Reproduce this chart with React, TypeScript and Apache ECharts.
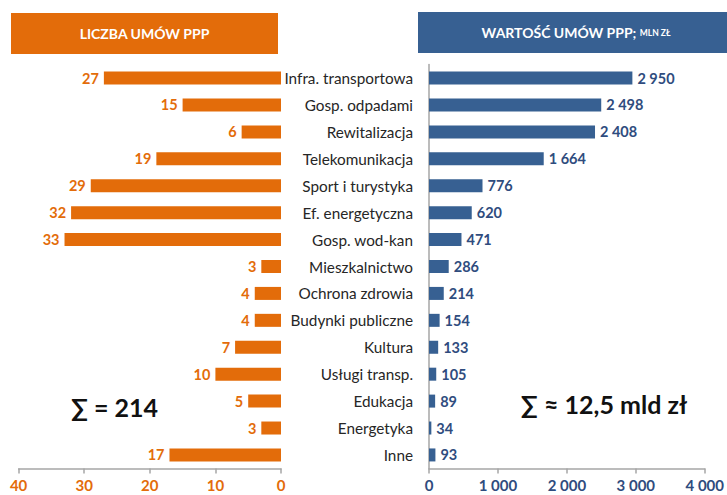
import React, { useEffect, useRef } from "react";
import * as echarts from "echarts";

const categories = [
  "Infra. transportowa",
  "Gosp. odpadami",
  "Rewitalizacja",
  "Telekomunikacja",
  "Sport i turystyka",
  "Ef. energetyczna",
  "Gosp. wod-kan",
  "Mieszkalnictwo",
  "Ochrona zdrowia",
  "Budynki publiczne",
  "Kultura",
  "Usługi transp.",
  "Edukacja",
  "Energetyka",
  "Inne",
];
const countValues = [27, 15, 6, 19, 29, 32, 33, 3, 4, 4, 7, 10, 5, 3, 17];
const valueValues = [2950, 2498, 2408, 1664, 776, 620, 471, 286, 214, 154, 133, 105, 89, 34, 93];
const leftTicks = { min: 0, max: 40, interval: 10 };
const rightTicks = { min: 0, max: 4000, interval: 1000 };
const leftTitle = "LICZBA UMÓW PPP";
const rightTitle = "WARTOŚĆ UMÓW PPP;";
const rightTitleUnit = "MLN ZŁ";
const leftSum = "∑ = 214";
const rightSum = "∑ ≈ 12,5 mld zł";

const ORANGE = "#E36C0A";
const BLUE = "#376092";
const BLUE_TEXT = "#2F4C7E";
const GRAY = "#A6A6A6";
const FONT = "Lato, 'Open Sans', sans-serif";

const fmtThousands = (v: number) =>
  String(v).replace(/\B(?=(\d{3})+(?!\d))/g, " ");

export default function App() {
  const ref = useRef<HTMLDivElement>(null);
  useEffect(() => {
    if (!ref.current) return;
    const chart = echarts.init(ref.current, null, { renderer: "svg" });
    const top = 64.6;
    const bottom = 26.6;
    chart.setOption({
      animation: false,
      textStyle: { fontFamily: FONT },
      grid: [
        { left: 18.6, right: 446, top, bottom },
        { left: 429, right: 16.3, top, bottom },
      ],
      xAxis: [
        {
          gridIndex: 0,
          type: "value",
          inverse: true,
          ...leftTicks,
          axisLine: { show: true, lineStyle: { color: GRAY, width: 1.5 } },
          axisTick: { show: true, length: 5, lineStyle: { color: GRAY, width: 1.5 } },
          axisLabel: { color: ORANGE, fontWeight: "bold", fontSize: 15, margin: 9, fontFamily: FONT },
          splitLine: { show: false },
        },
        {
          gridIndex: 1,
          type: "value",
          ...rightTicks,
          axisLine: { show: true, lineStyle: { color: GRAY, width: 1.5 } },
          axisTick: { show: true, length: 5, lineStyle: { color: GRAY, width: 1.5 } },
          axisLabel: {
            color: BLUE_TEXT,
            fontWeight: "bold",
            fontSize: 15,
            margin: 9,
            fontFamily: FONT,
            formatter: (v: number) => fmtThousands(v),
          },
          splitLine: { show: false },
        },
      ],
      yAxis: [
        {
          gridIndex: 0,
          type: "category",
          inverse: true,
          data: categories,
          axisLine: { show: false },
          axisTick: { show: false },
          axisLabel: { show: false },
        },
        {
          gridIndex: 1,
          type: "category",
          inverse: true,
          data: categories,
          axisLine: { show: true, lineStyle: { color: GRAY, width: 1.5 } },
          axisTick: { show: false },
          axisLabel: { color: "#262626", fontSize: 15.3, margin: 16, fontFamily: FONT },
        },
      ],
      series: [
        {
          type: "bar",
          xAxisIndex: 0,
          yAxisIndex: 0,
          data: countValues,
          barWidth: 13,
          itemStyle: { color: ORANGE },
          label: {
            show: true,
            position: "left",
            distance: 5,
            color: ORANGE,
            fontWeight: "bold",
            fontSize: 14.5,
            fontFamily: FONT,
          },
        },
        {
          type: "bar",
          xAxisIndex: 1,
          yAxisIndex: 1,
          data: valueValues,
          barWidth: 13,
          itemStyle: { color: BLUE },
          label: {
            show: true,
            position: "right",
            distance: 5,
            color: BLUE_TEXT,
            fontWeight: "bold",
            fontSize: 14.5,
            fontFamily: FONT,
            formatter: (p: any) => fmtThousands(p.value),
          },
        },
      ],
      graphic: [
        {
          type: "rect",
          shape: { x: 11, y: 13, width: 267, height: 41 },
          style: { fill: ORANGE },
        },
        {
          type: "text",
          x: 144.5,
          y: 33.5,
          style: {
            text: leftTitle,
            fill: "#fff",
            font: `bold 14px ${FONT}`,
            textAlign: "center",
            textVerticalAlign: "middle",
          },
        },
        {
          type: "rect",
          shape: { x: 418, y: 12, width: 309, height: 41 },
          style: { fill: BLUE },
        },
        {
          type: "text",
          x: 576,
          y: 32.5,
          style: {
            text: `{a|${rightTitle}} {b|${rightTitleUnit}}`,
            textAlign: "center",
            textVerticalAlign: "middle",
            rich: {
              a: { fill: "#fff", font: `bold 14px ${FONT}` },
              b: { fill: "#fff", font: `bold 8.5px ${FONT}` },
            },
          },
        },
        {
          type: "text",
          x: 114.5,
          y: 407,
          style: {
            text: leftSum,
            fill: "#111",
            font: `bold 25px ${FONT}`,
            textAlign: "center",
            textVerticalAlign: "middle",
          },
        },
        {
          type: "text",
          x: 604,
          y: 404,
          style: {
            text: rightSum,
            fill: "#111",
            font: `bold 25px ${FONT}`,
            textAlign: "center",
            textVerticalAlign: "middle",
          },
        },
      ],
    });
    return () => chart.dispose();
  }, []);
  return <div ref={ref} style={{ width: 727, height: 495, position: "absolute", left: 0, top: 0 }} />;
}
